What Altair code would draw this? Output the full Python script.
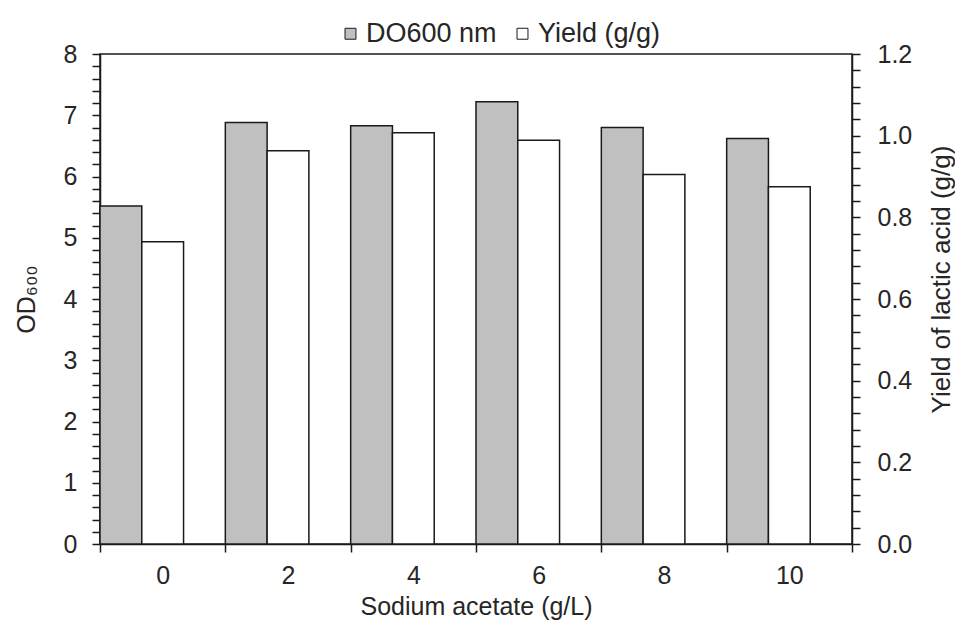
import altair as alt
import pandas as pd

# Data
acetate = [0, 2, 4, 6, 8, 10]                       # Sodium acetate (g/L)
od600 = [5.52, 6.88, 6.83, 7.22, 6.80, 6.62]        # OD600
yield_gg = [0.740, 0.963, 1.007, 0.989, 0.905, 0.875]  # Yield of lactic acid (g/g)
series_names = ["DO600 nm", "Yield (g/g)"]
series_colors = ["#c0c0c0", "#ffffff"]

od_ticks = [round(i * 0.2, 1) for i in range(41)]
yl_ticks = [round(i * 0.04, 2) for i in range(31)]
x_ticks = [-1, 1, 3, 5, 7, 9, 11]

df = pd.DataFrame({"acetate": acetate, "od": od600, "yld": yield_gg})

FONT = "Liberation Sans"
TXT = "#262626"
W, H = 752, 490
FS = 25

x_scale = alt.Scale(domain=[-1, 11], nice=False, zero=False)

x_axis = alt.Axis(
    values=x_ticks,
    labelExpr="datum.value < 10 ? format(datum.value + 1, 'd') : ''",
    labelOffset=W / 12,
    labelFlush=False,
    tickSize=8,
    labelPadding=11,
    title="Sodium acetate (g/L)",
    titleFontSize=25,
    titlePadding=6,
    grid=False,
)

base = alt.Chart(df).transform_calculate(
    gx1="datum.acetate - 1",
    gx2="datum.acetate - 1 + 2/3",
    wx2="datum.acetate - 1 + 4/3",
)

gray = base.transform_calculate(series="'DO600 nm'").mark_bar(
    stroke="#1a1a1a", strokeWidth=1.5
).encode(
    x=alt.X("gx1:Q", scale=x_scale, axis=x_axis),
    x2="gx2:Q",
    y=alt.Y(
        "od:Q",
        scale=alt.Scale(domain=[0, 8], nice=False),
        axis=alt.Axis(
            orient="left",
            values=od_ticks,
            labelExpr="abs(datum.value - round(datum.value)) < 1e-6 ? format(datum.value, 'd') : ''",
            tickSize=8,
            labelPadding=15,
            title="OD₆₀₀",
            titlePadding=24,
            grid=False,
        ),
    ),
    y2=alt.datum(0),
    color=alt.Color(
        "series:N",
        scale=alt.Scale(domain=series_names, range=series_colors),
        legend=alt.Legend(
            title=None,
            orient="none",
            legendX=237,
            legendY=-34,
            direction="horizontal",
            symbolType="square",
            symbolSize=120,
            symbolStrokeColor="#1a1a1a",
            symbolStrokeWidth=1,
            symbolOpacity=1,
            labelFont=FONT,
            labelFontSize=27,
            labelColor=TXT,
            labelOffset=2,
            columnPadding=12,
        ),
    ),
)

white = base.transform_calculate(series="'Yield (g/g)'").mark_bar(
    stroke="#1a1a1a", strokeWidth=1.5
).encode(
    x=alt.X("gx2:Q", scale=x_scale),
    x2="wx2:Q",
    y=alt.Y(
        "yld:Q",
        scale=alt.Scale(domain=[0, 1.2], nice=False),
        axis=alt.Axis(
            orient="right",
            values=yl_ticks,
            labelExpr="abs(datum.value * 5 - round(datum.value * 5)) < 1e-6 ? format(datum.value, '.1f') : ''",
            tickSize=8,
            labelPadding=17,
            title="Yield of lactic acid (g/g)",
            titleAngle=270,
            titleBaseline="top",
            titleFontSize=26,
            titlePadding=17,
            titleY=225,
            grid=False,
        ),
    ),
    y2=alt.datum(0),
    color=alt.Color("series:N"),
)

chart = (
    alt.layer(gray, white)
    .resolve_scale(y="independent")
    .properties(
        width=W,
        height=H,
        autosize=alt.AutoSizeParams(type="none"),
        padding={"left": 92, "top": 46, "right": 103, "bottom": 76},
        background="white",
    )
    .configure_view(stroke="#1a1a1a", strokeWidth=1.5)
    .configure_axis(
        domainColor="#1a1a1a",
        domainWidth=1.5,
        tickColor="#1a1a1a",
        tickWidth=1.5,
        labelFont=FONT,
        labelFontSize=FS,
        labelColor=TXT,
        titleFont=FONT,
        titleFontSize=FS,
        titleFontWeight="normal",
        titleColor=TXT,
    )
)

chart.save("out.html", embed_options={"renderer": "svg", "actions": False})
